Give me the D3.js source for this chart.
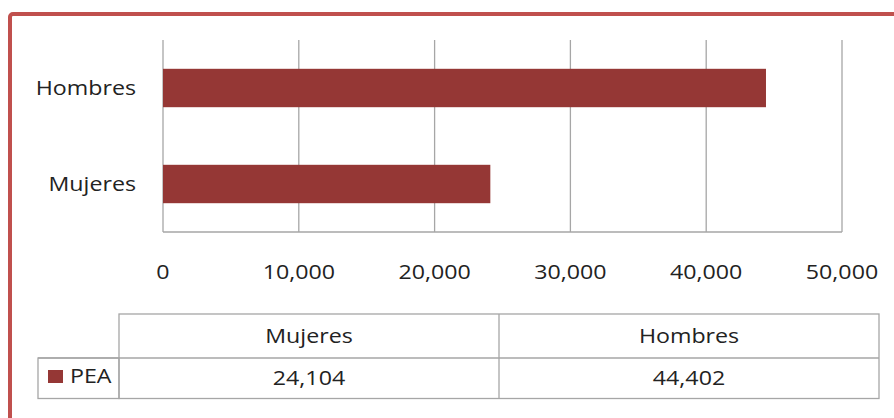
<!DOCTYPE html>
<html>
<head>
<meta charset="utf-8">
<script src="https://cdn.jsdelivr.net/npm/d3@7"></script>
<style>
  body { margin: 0; background: #fff; }
  text { font-family: "Open Sans", sans-serif; fill: #222; font-size: 20px; }
</style>
</head>
<body>
<svg id="chart"></svg>
<script>
// PEA por sexo
const categories = ["Hombres", "Mujeres"];
const values = [44402, 24104];
const tableOrder = ["Mujeres", "Hombres"];
const seriesName = "PEA";
const xTicks = [0, 10000, 20000, 30000, 40000, 50000];

const W = 894, H = 418;
const plot = { left: 163, right: 842, top: 40, bottom: 232 };
const barColor = "#953735";
const gridColor = "#a6a6a6";
const tableColor = "#a6a6a6";
const sx = 1.16; // the original text is a bit wider than Open Sans

const svg = d3.select("#chart")
  .attr("width", W)
  .attr("height", H);

// place text at (x, y) stretched horizontally
const place = (px, py) => `translate(${px},${py}) scale(${sx},1)`;

// outer frame
svg.append("rect")
  .attr("x", 10).attr("y", 14)
  .attr("width", W + 20).attr("height", H + 20)
  .attr("rx", 3)
  .attr("fill", "none")
  .attr("stroke", "#c0504d")
  .attr("stroke-width", 4);

const x = d3.scaleLinear()
  .domain([0, 50000])
  .range([plot.left, plot.right]);

const y = d3.scaleBand()
  .domain(categories)
  .range([plot.top, plot.bottom])
  .paddingInner(0.6)
  .paddingOuter(0.3);

// gridlines
svg.append("g")
  .selectAll("line")
  .data(xTicks)
  .enter().append("line")
  .attr("x1", d => x(d)).attr("x2", d => x(d))
  .attr("y1", plot.top).attr("y2", plot.bottom)
  .attr("stroke", gridColor)
  .attr("stroke-width", 1.3);

svg.append("line")
  .attr("x1", plot.left).attr("x2", plot.right)
  .attr("y1", plot.bottom).attr("y2", plot.bottom)
  .attr("stroke", gridColor)
  .attr("stroke-width", 1.3);

// bars
svg.selectAll(".bar")
  .data(categories)
  .enter().append("rect")
  .attr("class", "bar")
  .attr("x", x(0))
  .attr("y", d => y(d))
  .attr("width", (d, i) => x(values[i]) - x(0))
  .attr("height", y.bandwidth())
  .attr("fill", barColor);

// category labels
svg.selectAll(".cat")
  .data(categories)
  .enter().append("text")
  .attr("class", "cat")
  .attr("transform", d => place(136, y(d) + y.bandwidth() / 2))
  .attr("dy", "0.35em")
  .attr("text-anchor", "end")
  .text(d => d);

// x tick labels
svg.selectAll(".tick-label")
  .data(xTicks)
  .enter().append("text")
  .attr("class", "tick-label")
  .attr("transform", d => place(x(d), 279))
  .attr("text-anchor", "middle")
  .text(d => d3.format(",")(d));

// data table
const col = d3.scaleBand()
  .domain(tableOrder)
  .range([119, 879]);
const rowTop = 314, rowMid = 358, rowBot = 398.5, legendLeft = 38;

const tbl = svg.append("g")
  .attr("fill", "none")
  .attr("stroke", tableColor)
  .attr("stroke-width", 1.3);

tbl.append("rect")
  .attr("x", col.range()[0]).attr("y", rowTop)
  .attr("width", col.range()[1] - col.range()[0])
  .attr("height", rowBot - rowTop);
tbl.append("line")
  .attr("x1", legendLeft).attr("x2", col.range()[1])
  .attr("y1", rowMid).attr("y2", rowMid);
tbl.append("rect")
  .attr("x", legendLeft).attr("y", rowMid)
  .attr("width", col.range()[0] - legendLeft)
  .attr("height", rowBot - rowMid);
tbl.selectAll(".div")
  .data(tableOrder.slice(1))
  .enter().append("line")
  .attr("x1", d => col(d)).attr("x2", d => col(d))
  .attr("y1", rowTop).attr("y2", rowBot);

svg.selectAll(".th")
  .data(tableOrder)
  .enter().append("text")
  .attr("class", "th")
  .attr("transform", d => place(col(d) + col.bandwidth() / 2, 343))
  .attr("text-anchor", "middle")
  .text(d => d);

svg.selectAll(".td")
  .data(tableOrder)
  .enter().append("text")
  .attr("class", "td")
  .attr("transform", d => place(col(d) + col.bandwidth() / 2, 385))
  .attr("text-anchor", "middle")
  .text(d => d3.format(",")(values[categories.indexOf(d)]));

// legend key
svg.append("rect")
  .attr("x", 48).attr("y", 370)
  .attr("width", 15).attr("height", 13)
  .attr("fill", barColor);
svg.append("text")
  .attr("transform", place(70, 383))
  .text(seriesName);
</script>
</body>
</html>
